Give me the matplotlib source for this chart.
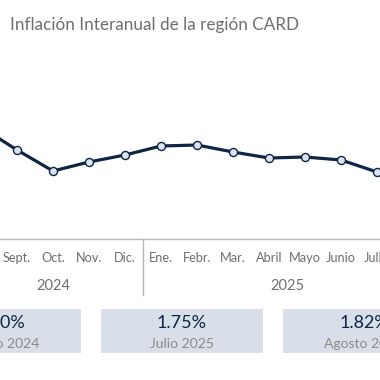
import matplotlib.pyplot as plt
import matplotlib.transforms as mtransforms
from matplotlib.patches import Rectangle

plt.rcParams['font.family'] = ['Lato', 'DejaVu Sans']

# Ago 2024 .. Ago 2025
months = ["Agosto", "Sept.", "Oct.", "Nov.", "Dic.", "Ene.", "Febr.", "Mar.",
          "Abril", "Mayo", "Junio", "Julio", "Agosto"]
inflation = [2.20, 1.97, 1.76, 1.85, 1.92, 2.01, 2.02, 1.95, 1.89, 1.90, 1.87, 1.75, 1.82]
years = ["2024", "2025"]
year_centers = [2, 8.5]
box_values = ["2.20%", "1.75%", "1.82%"]
box_labels = ["Agosto 2024", "Julio 2025", "Agosto 2025"]
box_centers = [0.53, 5.58, 10.64]

navy = "#0f2547"
gray = "#6e6e6e"

fig = plt.figure(figsize=(3.8, 3.8), dpi=100)
ax = fig.add_axes([0, 0, 1, 1])
ax.set_xlim(0.528, 11.083)
ax.set_ylim(-0.33, 3.47)
ax.axis("off")

x = list(range(len(months)))
ax.plot(x, inflation, color=navy, lw=2.3, marker="o", ms=5.8,
        mfc="#dce3ee", mec=navy, mew=1.0, zorder=3)

tr = mtransforms.blended_transform_factory(ax.transData, ax.transAxes)

def fy(px):
    return 1 - px / 380

fig.text(10 / 380, fy(25), "Inflación Interanual de la región CARD",
         fontsize=12.3, color=gray, va="center", ha="left")

ax.plot([0.528, 11.083], [fy(239), fy(239)], transform=tr, color="#b8b8b8", lw=1.0)
ax.plot([4.5, 4.5], [fy(239), fy(295)], transform=tr, color="#b8b8b8", lw=1.0)

for i, m in enumerate(months):
    ax.text(i, fy(258), m, transform=tr, ha="center", va="center",
            fontsize=9.2, color=gray)
for yc, yr in zip(year_centers, years):
    ax.text(yc, fy(286), yr, transform=tr, ha="center", va="center",
            fontsize=10.5, color=gray)

bw = 162 / 36
for xc, val, lab in zip(box_centers, box_values, box_labels):
    ax.add_patch(Rectangle((xc - bw / 2, fy(353)), bw, fy(309) - fy(353),
                           transform=tr, facecolor="#d8dfe8", edgecolor="none",
                           clip_on=False))
    ax.text(xc, fy(323), val, transform=tr, ha="center", va="center",
            fontsize=13, color=navy)
    ax.text(xc, fy(344), lab, transform=tr, ha="center", va="center",
            fontsize=10, color="#8a8a8a")

fig.savefig("out.png", dpi=100)
